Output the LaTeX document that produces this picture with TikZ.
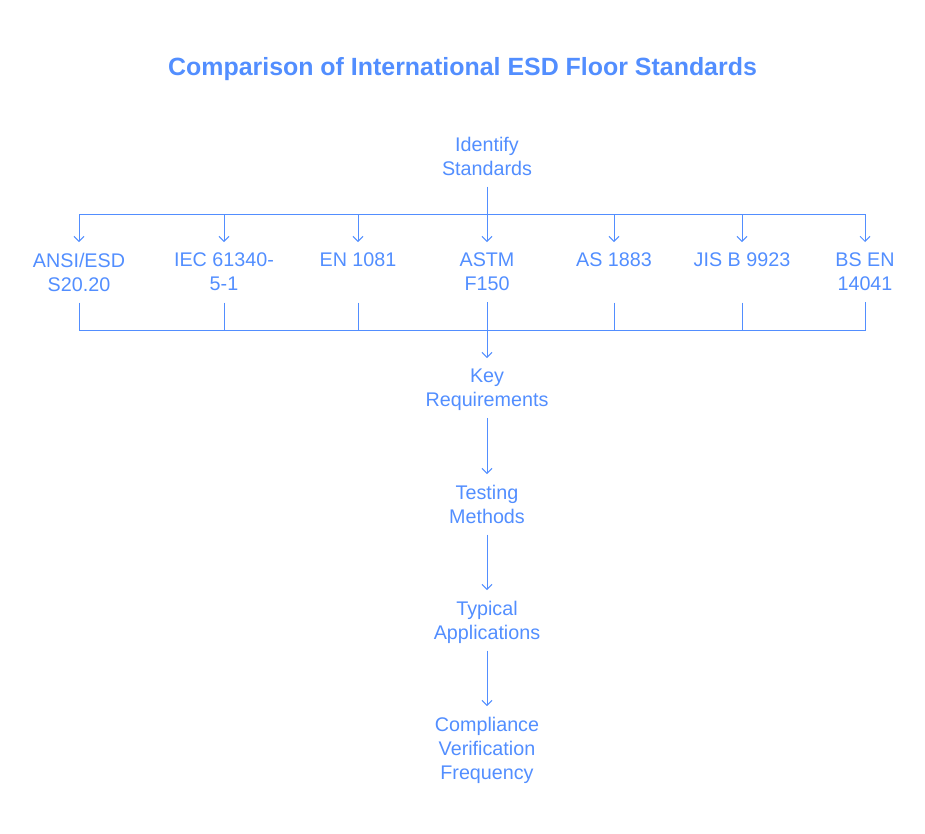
\documentclass[tikz,border=0pt]{standalone}
\usepackage{fontspec}
\setmainfont{Liberation Sans}
\usepackage{tikz}
\usepackage{xcolor}
\usetikzlibrary{arrows.meta}
\definecolor{esdblue}{RGB}{82,142,255}

\begin{document}
\begin{tikzpicture}[x=.75pt,y=-.75pt,
    std/.style={anchor=north,align=center,inner xsep=0pt,inner ysep=8.2pt,
      text depth=0pt,font=\fontsize{14.8}{18}\selectfont,text=esdblue},
    link/.style={draw=esdblue,line width=.75pt},
    >={Straight Barb[length=3.75pt,width=7.5pt]}]
  \useasboundingbox (0,0) rectangle (925,833);
  \node (ttl) [anchor=base,text=esdblue,font=\fontsize{18.7}{22}\selectfont\bfseries]
    at (462.5,75) {Comparison of International ESD Floor Standards};
  \node (ident) [std] at (487,126) {Identify\\Standards};
  \node (ansi) [std] at (79,242) {ANSI/ESD\\S20.20};
  \node (iec) [std] at (224,242) {IEC 61340-\\5-1};
  \node (en) [std] at (358,242) {EN 1081};
  \node (astm) [std] at (487,242) {ASTM\\F150};
  \node (as) [std] at (614,242) {AS 1883};
  \node (jis) [std] at (742,242) {JIS B 9923};
  \node (bsen) [std] at (865,242) {BS EN\\14041};
  \node (key) [std] at (487,358) {Key\\Requirements};
  \node (test) [std] at (487,474) {Testing\\Methods};
  \node (appl) [std] at (487,590) {Typical\\Applications};
  \node (comp) [std] at (487,706) {Compliance\\Verification\\Frequency};
  \path (node cs:name=ident,anchor=south) +(0,28) coordinate (tb);
  \path (node cs:name=ansi,anchor=south) +(0,28) coordinate (bb);
  \draw[link,->] (ident.south) -- (astm.north);
  \draw[link,<->] (ansi.north) -- (ansi.north |- tb) -- (bsen.north |- tb) -- (bsen.north);
  \foreach \n in {iec,en,as,jis}
    \draw[link,->] (\n.north |- tb) -- (\n.north);
  \draw[link] (ansi.south) -- (ansi.south |- bb) -- (bsen.south |- bb) -- (bsen.south);
  \foreach \n in {iec,en,as,jis}
    \draw[link] (\n.north |- ansi.south) -- (\n.north |- bb);
  \draw[link,->] (astm.south) -- (key.north);
  \draw[link,->] (key.south) -- (test.north);
  \draw[link,->] (test.south) -- (appl.north);
  \draw[link,->] (appl.south) -- (comp.north);
\end{tikzpicture}
\end{document}
